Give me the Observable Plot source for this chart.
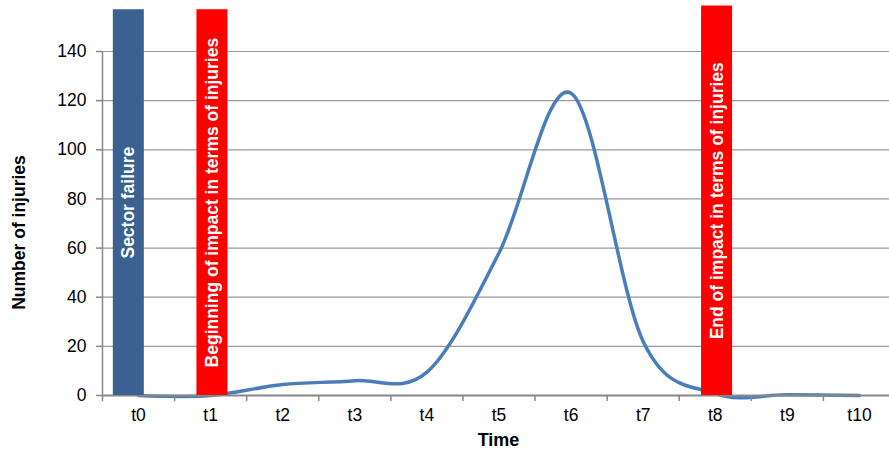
<!DOCTYPE html>
<html><head><meta charset="utf-8">
<script src="https://cdn.jsdelivr.net/npm/d3@7"></script>
<script src="https://cdn.jsdelivr.net/npm/@observablehq/plot@0.6"></script>
<style>
body{margin:0;overflow:hidden;background:#fff;font-family:"Liberation Sans",Arial,sans-serif}
#chart svg{overflow:hidden;display:block}
</style>
</head><body><div id="chart"></div>
<script>
// Data
const timeLabels = ["t0","t1","t2","t3","t4","t5","t6","t7","t8","t9","t10"];
const injuries = [0, 0, 4.5, 6, 9.5, 58, 123, 22, 0.8, 0.3, 0];
const yTicks = [0, 20, 40, 60, 80, 100, 120, 140];
const eventLabels = ["Sector failure", "Beginning of impact in terms of injuries", "End of impact in terms of injuries"];
const eventStart = [-0.35, 0.81, 7.81];
const eventEnd = [0.08, 1.24, 8.24];
const eventTop = [157, 157, 158.5];
const eventColors = ["#3a6190", "#ff0000", "#ff0000"];

const idx = d3.range(timeLabels.length);
const boundaries = d3.range(timeLabels.length).map(i => i - 0.5);
const ev = d3.range(eventLabels.length);
const font = "Liberation Sans, Arial, sans-serif";

const chart = Plot.plot({
  width: 889,
  height: 454,
  marginLeft: 102,
  marginRight: 0,
  marginTop: 51,
  marginBottom: 59,
  style: {fontFamily: font, background: "white", overflow: "hidden"},
  x: {type: "linear", domain: [-0.5, 10.5], range: [102, 895]},
  y: {domain: [0, 140]},
  color: {type: "identity"},
  marks: [
    Plot.ruleY(yTicks.slice(1), {stroke: "#9a9a9a", strokeWidth: 1.2}),
    Plot.line(injuries, {x: (d, i) => idx[i], y: d => d, curve: "cardinal", stroke: "#4a7ebb", strokeWidth: 3.5}),
    Plot.ruleY([0], {stroke: "#888", strokeWidth: 2}),
    Plot.ruleX([-0.5], {y1: 0, y2: 140, stroke: "#888", strokeWidth: 1.5}),
    Plot.rectY(ev, {x1: i => eventStart[i], x2: i => eventEnd[i], y1: 0, y2: i => eventTop[i], fill: i => eventColors[i]}),
    Plot.text(ev, {x: i => (eventStart[i] + eventEnd[i]) / 2, y: i => eventTop[i] / 2, text: i => eventLabels[i], rotate: -90, fill: "white", fontWeight: "bold", fontSize: 17.5}),
    Plot.axisY(yTicks, {tickSize: 6, tickPadding: 10, stroke: "#888", strokeWidth: 1.5, fill: "black", fontSize: 17.5, label: null}),
    Plot.axisX(boundaries, {tickSize: 6, stroke: "#888", strokeWidth: 1.5, tickFormat: () => "", label: null}),
    Plot.axisX(idx, {tickSize: 0, tickPadding: 13, tickFormat: i => timeLabels[i], fill: "black", fontSize: 17.5, label: null}),
    Plot.text(["Number of injuries"], {frameAnchor: "left", textAnchor: "middle", dx: -83, dy: 9, rotate: -90, fontWeight: "bold", fontSize: 17.5, fill: "black"}),
    Plot.text(["Time"], {frameAnchor: "bottom", dx: 2.5, dy: 50, fontWeight: "bold", fontSize: 18, fill: "black"})
  ]
});
document.getElementById("chart").appendChild(chart);
</script>
</body></html>
